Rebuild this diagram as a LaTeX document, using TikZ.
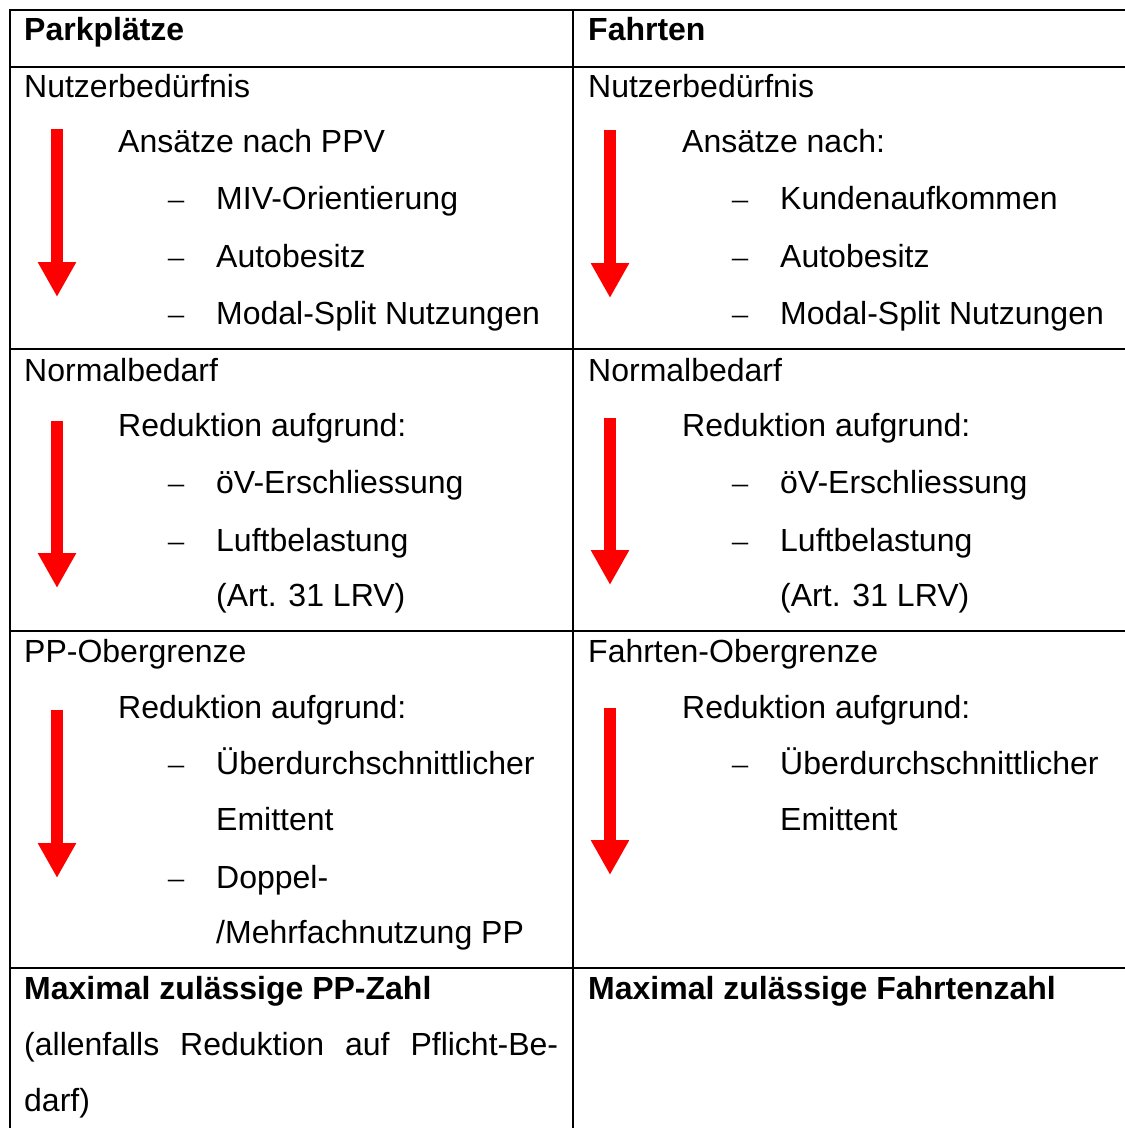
\documentclass[tikz,border=0pt]{standalone}
\usepackage{fontspec}
\setmainfont{Liberation Sans}
\newfontfamily\dashfont{Liberation Serif}
\usetikzlibrary{arrows.meta}
\begin{document}
\begin{tikzpicture}[x=1pt,y=-1pt,
  txt/.style={anchor=base west,inner sep=0pt,font=\fontsize{32}{38}\selectfont},
  hdr/.style={txt,font=\fontsize{32}{38}\selectfont\bfseries},
  dsh/.style={anchor=base west,inner sep=0pt,font=\fontsize{32}{38}\selectfont\dashfont},
  rule/.style={line width=2pt,black},
  redarrow/.style={draw=red,line width=12pt,line cap=butt,-{Triangle[length=35pt,width=36pt,fill=red]}}]
\useasboundingbox (0,0) rectangle (1125,1128);
% grid
\draw[rule] (9,10) -- (1125,10);
\draw[rule] (9,67) -- (1125,67);
\draw[rule] (9,349) -- (1125,349);
\draw[rule] (9,631) -- (1125,631);
\draw[rule] (9,968) -- (1125,968);
\draw[rule] (10,9) -- (10,1128);
\draw[rule] (573,9) -- (573,1128);
% arrows
\coordinate (l1s) at (57,129); \coordinate (l1e) at (57,297);
\coordinate (r1s) at (610,130); \coordinate (r1e) at (610,298);
\coordinate (l2s) at (57,421); \coordinate (l2e) at (57,588);
\coordinate (r2s) at (610,418); \coordinate (r2e) at (610,585);
\coordinate (l3s) at (57,710); \coordinate (l3e) at (57,878);
\coordinate (r3s) at (610,708); \coordinate (r3e) at (610,875);
\draw[redarrow] (l1s) -- (l1e);
\draw[redarrow] (r1s) -- (r1e);
\draw[redarrow] (l2s) -- (l2e);
\draw[redarrow] (r2s) -- (r2e);
\draw[redarrow] (l3s) -- (l3e);
\draw[redarrow] (r3s) -- (r3e);
% headers
\node[hdr] (lh) at (24,40) {Parkplätze};
\node[hdr] (rh) at (588,40) {Fahrten};
% row 1 left
\node[txt] (l1a) at (24,97) {Nutzerbedürfnis};
\node[txt] (l1b) at (118,152) {Ansätze nach PPV};
\node[dsh] (l1d1) at (168,209) {–};
\node[txt] (l1c) at (216,209) {MIV-Orientierung};
\node[dsh] (l1d2) at (168,267) {–};
\node[txt] (l1e2) at (216,267) {Autobesitz};
\node[dsh] (l1d3) at (168,324) {–};
\node[txt] (l1f) at (216,324) {Modal-Split Nutzungen};
% row 1 right
\node[txt] (r1a) at (588,97) {Nutzerbedürfnis};
\node[txt] (r1b) at (682,152) {Ansätze nach:};
\node[dsh] (r1d1) at (732,209) {–};
\node[txt] (r1c) at (780,209) {Kundenaufkommen};
\node[dsh] (r1d2) at (732,267) {–};
\node[txt] (r1e2) at (780,267) {Autobesitz};
\node[dsh] (r1d3) at (732,324) {–};
\node[txt] (r1f) at (780,324) {Modal-Split Nutzungen};
% row 2 left
\node[txt] (l2a) at (24,381) {Normalbedarf};
\node[txt] (l2b) at (118,436) {Reduktion aufgrund:};
\node[dsh] (l2d1) at (168,493) {–};
\node[txt] (l2c) at (216,493) {öV-Erschliessung};
\node[dsh] (l2d2) at (168,551) {–};
\node[txt] (l2e2) at (216,551) {Luftbelastung};
\node[txt] (l2f) at (216,606) {(Art. 31 LRV)};
% row 2 right
\node[txt] (r2a) at (588,381) {Normalbedarf};
\node[txt] (r2b) at (682,436) {Reduktion aufgrund:};
\node[dsh] (r2d1) at (732,493) {–};
\node[txt] (r2c) at (780,493) {öV-Erschliessung};
\node[dsh] (r2d2) at (732,551) {–};
\node[txt] (r2e2) at (780,551) {Luftbelastung};
\node[txt] (r2f) at (780,606) {(Art. 31 LRV)};
% row 3 left
\node[txt] (l3a) at (24,662) {PP-Obergrenze};
\node[txt] (l3b) at (118,718) {Reduktion aufgrund:};
\node[dsh] (l3d1) at (168,774) {–};
\node[txt] (l3c) at (216,774) {Überdurchschnittlicher};
\node[txt] (l3e2) at (216,830) {Emittent};
\node[dsh] (l3d2) at (168,888) {–};
\node[txt] (l3f) at (216,888) {Doppel-};
\node[txt] (l3g) at (216,943) {/Mehrfachnutzung PP};
% row 3 right
\node[txt] (r3a) at (588,662) {Fahrten-Obergrenze};
\node[txt] (r3b) at (682,718) {Reduktion aufgrund:};
\node[dsh] (r3d1) at (732,774) {–};
\node[txt] (r3c) at (780,774) {Überdurchschnittlicher};
\node[txt] (r3e2) at (780,830) {Emittent};
% row 4
\node[hdr] (l4a) at (24,999) {Maximal zulässige PP-Zahl};
\node[txt] (l4b) at (24,1055) {\makebox[534pt][s]{(allenfalls\hfill Reduktion\hfill auf\hfill Pflicht-Be-}};
\node[txt] (l4c) at (24,1111) {darf)};
\node[hdr] (r4a) at (588,999) {Maximal zulässige Fahrtenzahl};
\end{tikzpicture}
\end{document}
